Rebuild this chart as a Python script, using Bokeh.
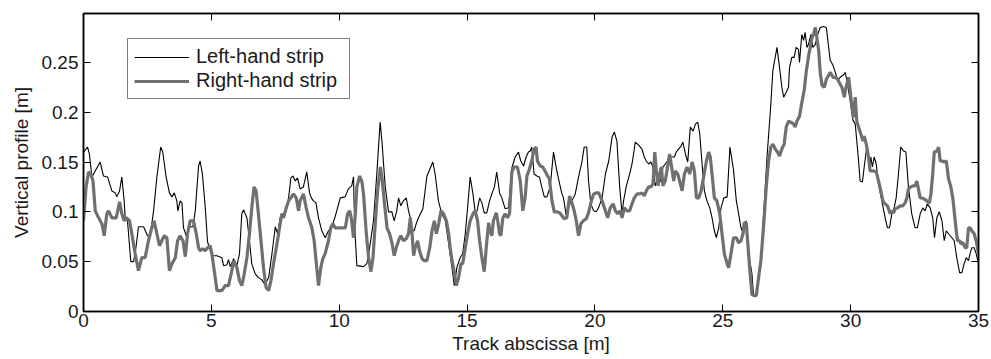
from bokeh.plotting import figure
from bokeh.models import Range1d, LinearAxis, FixedTicker, CustomJSTickFormatter, ColumnDataSource
from bokeh.embed import file_html
from bokeh.resources import INLINE

# ---- data ----
x_ticks = [0, 5, 10, 15, 20, 25, 30, 35]
y_ticks = [0, 0.05, 0.1, 0.15, 0.2, 0.25]
series_names = ["Left-hand strip", "Right-hand strip"]

left_x = [0, 0.16, 0.23, 0.33, 0.65, 0.78, 0.94, 1.11, 1.24, 1.30, 1.41, 1.50, 1.59, 1.63, 1.72, 1.85, 1.96,
          2.05, 2.15, 2.35, 2.50, 2.61, 2.74, 2.87, 3.02, 3.10, 3.23, 3.36, 3.46, 3.55, 3.65, 3.69, 3.78, 3.85,
          3.91, 4.02, 4.17, 4.28, 4.37, 4.50, 4.56, 4.65, 4.76, 4.85, 5.02, 5.22, 5.41, 5.48, 5.61, 5.67, 5.74,
          5.87, 6.00, 6.10, 6.19, 6.26, 6.39, 6.49, 6.58, 6.71, 6.84, 6.97, 7.10, 7.24, 7.37, 7.50, 7.59, 7.69,
          7.76, 7.89, 8.02, 8.11, 8.19, 8.28, 8.37, 8.47, 8.60, 8.73, 8.84, 8.91, 8.99, 9.09, 9.19, 9.32, 9.45,
          9.58, 9.71, 9.84, 10.04, 10.23, 10.36, 10.49, 10.56, 10.58, 10.62, 10.69, 10.95, 11.08, 11.19, 11.34,
          11.47, 11.60, 11.67, 11.80, 11.93, 12.06, 12.15, 12.25, 12.32, 12.41, 12.51, 12.62, 12.71, 12.78,
          12.84, 12.93, 13.01, 13.10, 13.27, 13.43, 13.66, 13.75, 13.88, 14.01, 14.15, 14.28, 14.41, 14.50,
          14.60, 14.73, 14.83, 14.93, 15.02, 15.12, 15.23, 15.32, 15.39, 15.49, 15.58, 15.67, 15.77, 15.88,
          15.97, 16.07, 16.16, 16.27, 16.36, 16.43, 16.49, 16.62, 16.75, 16.88, 17.01, 17.10, 17.21, 17.31,
          17.40, 17.47, 17.53, 17.62, 17.73, 17.83, 17.92, 18.02, 18.12, 18.25, 18.38, 18.51, 18.62, 18.71,
          18.77, 18.88, 18.97, 19.10, 19.23, 19.36, 19.49, 19.58, 19.68, 19.75, 19.84, 19.95, 20.05, 20.14,
          20.28, 20.41, 20.54, 20.67, 20.76, 20.86, 20.97, 21.06, 21.12, 21.23, 21.36, 21.45, 21.58, 21.71,
          21.84, 21.93, 22.01, 22.10, 22.19, 22.27, 22.36, 22.43, 22.49, 22.58, 22.66, 22.75, 22.84, 22.92,
          23.01, 23.11, 23.18, 23.27, 23.37, 23.44, 23.54, 23.63, 23.73, 23.84, 23.93, 24.02, 24.10, 24.19,
          24.28, 24.38, 24.49, 24.58, 24.67, 24.75, 24.84, 24.93, 25.04, 25.17, 25.28, 25.42, 25.53, 25.62,
          25.71, 25.81, 25.92, 26.01, 26.14, 26.20, 26.31, 26.40, 26.49, 26.59, 26.73, 26.86, 26.96, 27.05,
          27.12, 27.22, 27.31, 27.38, 27.48, 27.57, 27.61, 27.70, 27.79, 27.87, 27.96, 28.00, 28.09, 28.16,
          28.22, 28.29, 28.35, 28.45, 28.52, 28.62, 28.71, 28.81, 28.94, 29.05, 29.14, 29.20, 29.31, 29.40,
          29.49, 29.59, 29.70, 29.79, 29.85, 29.98, 30.09, 30.18, 30.24, 30.31, 30.37, 30.46, 30.53, 30.63,
          30.74, 30.79, 30.85, 30.92, 31.00, 31.09, 31.22, 31.35, 31.44, 31.52, 31.61, 31.70, 31.78, 31.87,
          31.96, 32.07, 32.16, 32.26, 32.39, 32.52, 32.61, 32.72, 32.82, 32.91, 33.00, 33.11, 33.21, 33.28,
          33.37, 33.47, 33.57, 33.66, 33.74, 33.83, 33.96, 34.05, 34.15, 34.26, 34.35, 34.44, 34.52, 34.61,
          34.67, 34.74, 34.83, 34.91, 35.00]
left_y = [0.160, 0.165, 0.158, 0.135, 0.150, 0.136, 0.135, 0.121, 0.119, 0.115, 0.121, 0.135, 0.111, 0.094,
          0.091, 0.050, 0.050, 0.064, 0.085, 0.085, 0.076, 0.076, 0.101, 0.135, 0.165, 0.160, 0.135, 0.119,
          0.115, 0.119, 0.111, 0.101, 0.111, 0.109, 0.084, 0.076, 0.085, 0.085, 0.101, 0.146, 0.151, 0.138,
          0.105, 0.070, 0.056, 0.056, 0.054, 0.046, 0.047, 0.052, 0.045, 0.053, 0.046, 0.058, 0.098, 0.102,
          0.094, 0.071, 0.048, 0.038, 0.034, 0.032, 0.027, 0.034, 0.058, 0.085, 0.078, 0.094, 0.098, 0.098,
          0.114, 0.134, 0.136, 0.131, 0.134, 0.123, 0.125, 0.140, 0.119, 0.114, 0.111, 0.109, 0.094, 0.081,
          0.074, 0.081, 0.085, 0.095, 0.114, 0.115, 0.123, 0.126, 0.135, 0.111, 0.078, 0.046, 0.045, 0.048,
          0.064, 0.091, 0.138, 0.190, 0.171, 0.125, 0.100, 0.100, 0.091, 0.101, 0.114, 0.106, 0.111, 0.114,
          0.101, 0.094, 0.081, 0.081, 0.088, 0.094, 0.103, 0.136, 0.150, 0.138, 0.111, 0.098, 0.091, 0.068,
          0.044, 0.026, 0.044, 0.054, 0.058, 0.078, 0.104, 0.135, 0.118, 0.099, 0.101, 0.114, 0.109, 0.099,
          0.099, 0.111, 0.118, 0.125, 0.140, 0.119, 0.114, 0.108, 0.103, 0.104, 0.144, 0.155, 0.160, 0.151,
          0.146, 0.155, 0.160, 0.161, 0.165, 0.138, 0.136, 0.135, 0.125, 0.115, 0.115, 0.125, 0.160, 0.141,
          0.128, 0.118, 0.114, 0.096, 0.106, 0.111, 0.118, 0.135, 0.150, 0.165, 0.165, 0.131, 0.108, 0.101,
          0.100, 0.104, 0.114, 0.138, 0.151, 0.175, 0.180, 0.171, 0.124, 0.098, 0.111, 0.126, 0.138, 0.148,
          0.170, 0.167, 0.163, 0.155, 0.151, 0.148, 0.150, 0.145, 0.126, 0.131, 0.138, 0.130, 0.145, 0.148,
          0.151, 0.155, 0.155, 0.155, 0.160, 0.163, 0.166, 0.170, 0.158, 0.150, 0.185, 0.181, 0.188, 0.190,
          0.178, 0.148, 0.121, 0.111, 0.104, 0.094, 0.081, 0.074, 0.084, 0.104, 0.114, 0.115, 0.165, 0.142,
          0.111, 0.098, 0.084, 0.078, 0.091, 0.058, 0.038, 0.017, 0.016, 0.037, 0.051, 0.094, 0.155, 0.201,
          0.242, 0.255, 0.265, 0.245, 0.225, 0.215, 0.220, 0.225, 0.245, 0.255, 0.255, 0.265, 0.263, 0.250,
          0.278, 0.272, 0.280, 0.265, 0.268, 0.278, 0.265, 0.268, 0.278, 0.285, 0.286, 0.285, 0.265, 0.252,
          0.247, 0.240, 0.232, 0.235, 0.237, 0.240, 0.232, 0.212, 0.192, 0.188, 0.171, 0.151, 0.131, 0.130,
          0.145, 0.165, 0.145, 0.155, 0.145, 0.155, 0.148, 0.128, 0.111, 0.094, 0.084, 0.084, 0.098, 0.104,
          0.114, 0.138, 0.165, 0.161, 0.160, 0.125, 0.098, 0.084, 0.084, 0.098, 0.104, 0.101, 0.108, 0.104,
          0.094, 0.074, 0.094, 0.100, 0.091, 0.071, 0.081, 0.078, 0.074, 0.071, 0.054, 0.039, 0.039, 0.048,
          0.054, 0.051, 0.058, 0.064, 0.064, 0.058, 0.048]

right_x = [0, 0.10, 0.20, 0.29, 0.37, 0.46, 0.59, 0.72, 0.81, 0.91, 0.98, 1.11, 1.28, 1.41, 1.50, 1.59, 1.67,
           1.80, 1.89, 2.02, 2.15, 2.28, 2.41, 2.54, 2.67, 2.76, 2.87, 2.97, 3.06, 3.16, 3.26, 3.36, 3.46, 3.59,
           3.68, 3.78, 3.89, 3.98, 4.07, 4.17, 4.30, 4.41, 4.50, 4.56, 4.67, 4.76, 4.85, 4.95, 5.02, 5.15, 5.22,
           5.41, 5.54, 5.67, 5.80, 5.87, 6.00, 6.10, 6.19, 6.28, 6.39, 6.49, 6.58, 6.67, 6.75, 6.84, 6.94, 7.04,
           7.14, 7.24, 7.33, 7.43, 7.54, 7.63, 7.69, 7.76, 7.82, 7.93, 8.02, 8.11, 8.21, 8.32, 8.41, 8.47, 8.60,
           8.71, 8.80, 8.93, 9.02, 9.12, 9.19, 9.28, 9.36, 9.45, 9.58, 9.67, 9.75, 9.84, 9.98, 10.11, 10.24,
           10.33, 10.41, 10.47, 10.56, 10.63, 10.69, 10.80, 10.89, 10.95, 11.06, 11.15, 11.24, 11.32, 11.41,
           11.50, 11.61, 11.67, 11.76, 11.87, 11.97, 12.06, 12.15, 12.23, 12.32, 12.41, 12.52, 12.62, 12.71,
           12.78, 12.84, 12.91, 12.97, 13.07, 13.14, 13.24, 13.33, 13.43, 13.54, 13.63, 13.72, 13.80, 13.89,
           13.98, 14.08, 14.19, 14.28, 14.34, 14.41, 14.47, 14.58, 14.67, 14.76, 14.83, 14.93, 15.02, 15.12,
           15.23, 15.32, 15.41, 15.49, 15.58, 15.67, 15.75, 15.84, 15.90, 15.97, 16.03, 16.14, 16.20, 16.27,
           16.32, 16.40, 16.49, 16.58, 16.66, 16.75, 16.84, 16.97, 17.08, 17.18, 17.27, 17.34, 17.44, 17.53,
           17.62, 17.70, 17.75, 17.86, 17.96, 18.05, 18.15, 18.22, 18.32, 18.41, 18.51, 18.62, 18.71, 18.80,
           18.90, 19.01, 19.10, 19.19, 19.27, 19.36, 19.45, 19.55, 19.66, 19.75, 19.84, 19.95, 20.05, 20.15,
           20.28, 20.41, 20.50, 20.60, 20.71, 20.80, 20.89, 20.99, 21.06, 21.15, 21.25, 21.36, 21.45, 21.54,
           21.65, 21.75, 21.84, 21.93, 22.01, 22.10, 22.19, 22.27, 22.34, 22.40, 22.47, 22.53, 22.60, 22.66,
           22.75, 22.84, 22.92, 23.00, 23.08, 23.14, 23.24, 23.31, 23.41, 23.50, 23.60, 23.71, 23.80, 23.89,
           23.97, 24.06, 24.15, 24.25, 24.36, 24.45, 24.51, 24.58, 24.67, 24.77, 24.88, 24.97, 25.06, 25.17,
           25.23, 25.32, 25.42, 25.53, 25.62, 25.71, 25.79, 25.84, 25.92, 25.97, 26.05, 26.14, 26.23, 26.31,
           26.40, 26.49, 26.59, 26.70, 26.79, 26.88, 26.96, 27.05, 27.14, 27.22, 27.31, 27.40, 27.48, 27.57,
           27.66, 27.77, 27.83, 27.90, 28.00, 28.06, 28.13, 28.19, 28.26, 28.36, 28.42, 28.49, 28.55, 28.62,
           28.68, 28.75, 28.81, 28.88, 28.97, 29.05, 29.14, 29.20, 29.31, 29.40, 29.49, 29.59, 29.66, 29.75,
           29.82, 29.92, 29.98, 30.05, 30.11, 30.18, 30.24, 30.31, 30.40, 30.48, 30.53, 30.61, 30.70, 30.76,
           30.83, 30.89, 31.00, 31.09, 31.18, 31.26, 31.35, 31.44, 31.55, 31.61, 31.68, 31.74, 31.83, 31.94,
           32.04, 32.13, 32.20, 32.26, 32.35, 32.43, 32.52, 32.59, 32.65, 32.72, 32.78, 32.87, 32.98, 33.08,
           33.14, 33.21, 33.27, 33.37, 33.44, 33.50, 33.57, 33.66, 33.74, 33.83, 33.92, 34.00, 34.06, 34.13,
           34.18, 34.26, 34.31, 34.39, 34.48, 34.54, 34.61, 34.67, 34.74, 34.83, 34.91, 35.00]
right_y = [0.091, 0.125, 0.140, 0.138, 0.131, 0.101, 0.094, 0.088, 0.076, 0.098, 0.101, 0.094, 0.094, 0.110,
           0.098, 0.091, 0.094, 0.091, 0.078, 0.058, 0.041, 0.054, 0.054, 0.071, 0.084, 0.091, 0.078, 0.066,
           0.071, 0.076, 0.074, 0.041, 0.048, 0.054, 0.071, 0.076, 0.071, 0.055, 0.078, 0.091, 0.091, 0.078,
           0.064, 0.061, 0.063, 0.061, 0.064, 0.066, 0.058, 0.034, 0.021, 0.021, 0.026, 0.026, 0.041, 0.051,
           0.044, 0.031, 0.026, 0.037, 0.054, 0.078, 0.104, 0.125, 0.121, 0.098, 0.071, 0.044, 0.024, 0.021,
           0.031, 0.048, 0.064, 0.078, 0.088, 0.098, 0.094, 0.104, 0.111, 0.114, 0.118, 0.114, 0.101, 0.111,
           0.118, 0.104, 0.094, 0.084, 0.071, 0.044, 0.026, 0.044, 0.053, 0.058, 0.071, 0.084, 0.088, 0.084,
           0.084, 0.084, 0.084, 0.098, 0.101, 0.094, 0.074, 0.098, 0.125, 0.136, 0.130, 0.118, 0.078, 0.054,
           0.040, 0.054, 0.088, 0.121, 0.145, 0.135, 0.111, 0.084, 0.078, 0.069, 0.056, 0.064, 0.071, 0.076,
           0.071, 0.073, 0.078, 0.094, 0.081, 0.056, 0.064, 0.071, 0.061, 0.053, 0.051, 0.051, 0.064, 0.081,
           0.091, 0.078, 0.088, 0.101, 0.098, 0.091, 0.078, 0.064, 0.051, 0.044, 0.026, 0.034, 0.048, 0.048,
           0.064, 0.078, 0.091, 0.098, 0.101, 0.091, 0.071, 0.054, 0.040, 0.064, 0.089, 0.081, 0.076, 0.091,
           0.099, 0.091, 0.078, 0.076, 0.094, 0.098, 0.094, 0.098, 0.140, 0.145, 0.145, 0.131, 0.101, 0.114,
           0.136, 0.143, 0.151, 0.163, 0.165, 0.151, 0.146, 0.145, 0.141, 0.136, 0.133, 0.111, 0.100, 0.100,
           0.099, 0.096, 0.093, 0.094, 0.116, 0.109, 0.101, 0.091, 0.076, 0.088, 0.091, 0.093, 0.099, 0.109,
           0.118, 0.119, 0.119, 0.111, 0.101, 0.094, 0.104, 0.108, 0.101, 0.098, 0.101, 0.094, 0.104, 0.101,
           0.101, 0.108, 0.114, 0.118, 0.118, 0.119, 0.116, 0.121, 0.125, 0.125, 0.128, 0.160, 0.141, 0.126,
           0.138, 0.145, 0.126, 0.131, 0.145, 0.158, 0.145, 0.131, 0.141, 0.138, 0.131, 0.121, 0.138, 0.145,
           0.138, 0.150, 0.141, 0.114, 0.114, 0.121, 0.135, 0.151, 0.160, 0.155, 0.138, 0.114, 0.111, 0.098,
           0.078, 0.058, 0.048, 0.044, 0.058, 0.074, 0.074, 0.069, 0.071, 0.078, 0.089, 0.089, 0.071, 0.044,
           0.017, 0.016, 0.016, 0.034, 0.051, 0.084, 0.125, 0.151, 0.165, 0.168, 0.163, 0.160, 0.156, 0.163,
           0.168, 0.185, 0.191, 0.190, 0.188, 0.185, 0.191, 0.196, 0.205, 0.215, 0.223, 0.240, 0.257, 0.265,
           0.275, 0.278, 0.285, 0.275, 0.262, 0.240, 0.227, 0.225, 0.233, 0.237, 0.240, 0.235, 0.235, 0.233,
           0.228, 0.225, 0.215, 0.225, 0.235, 0.222, 0.205, 0.195, 0.215, 0.191, 0.185, 0.178, 0.171, 0.176,
           0.168, 0.155, 0.141, 0.141, 0.141, 0.140, 0.131, 0.121, 0.111, 0.108, 0.106, 0.098, 0.101, 0.099,
           0.103, 0.104, 0.106, 0.106, 0.109, 0.114, 0.123, 0.125, 0.126, 0.126, 0.131, 0.123, 0.114, 0.114,
           0.113, 0.111, 0.109, 0.118, 0.138, 0.160, 0.161, 0.165, 0.151, 0.151, 0.150, 0.151, 0.133, 0.125,
           0.113, 0.098, 0.081, 0.071, 0.071, 0.068, 0.069, 0.064, 0.064, 0.084, 0.084, 0.081, 0.078, 0.071,
           0.058]

FONT = "Liberation Sans"
TXT = "#1a1a1a"

p = figure(width=991, height=359, x_range=Range1d(0, 35), y_range=Range1d(0, 0.299),
           output_backend="svg", toolbar_location=None,
           min_border_left=83, min_border_right=13, min_border_top=13, min_border_bottom=48)
p.background_fill_color = "white"
p.border_fill_color = "white"
p.outline_line_color = "black"
p.outline_line_width = 1.5
p.xgrid.visible = False
p.ygrid.visible = False

src_l = ColumnDataSource(dict(x=left_x, y=left_y))
src_r = ColumnDataSource(dict(x=right_x, y=right_y))
p.line("x", "y", source=src_l, line_color="black", line_width=1.1, legend_label=series_names[0])
p.line("x", "y", source=src_r, line_color="#707070", line_width=3.2, legend_label=series_names[1])

fmt = CustomJSTickFormatter(code="return (Math.round(tick*100)/100).toString();")

xa = p.xaxis[0]
xa.ticker = FixedTicker(ticks=x_ticks)
xa.axis_label = "Track abscissa [m]"
ya = p.yaxis[0]
ya.ticker = FixedTicker(ticks=y_ticks)
ya.formatter = fmt
ya.axis_label = "Vertical profile [m]"

for ax in (xa, ya):
    ax.major_tick_in = 7
    ax.major_tick_out = 0
    ax.major_tick_line_width = 1
    ax.minor_tick_line_color = None
    ax.axis_line_color = "black"
    ax.axis_line_width = 1.5
    ax.major_tick_line_color = "black"
    ax.major_label_text_font = FONT
    ax.major_label_text_font_size = "19px"
    ax.major_label_text_color = TXT
    ax.axis_label_text_font = FONT
    ax.axis_label_text_font_size = "19px"
    ax.axis_label_text_font_style = "normal"
    ax.axis_label_text_color = TXT
xa.major_label_standoff = 2
xa.axis_label_standoff = 3
ya.major_label_standoff = 5
ya.axis_label_standoff = 7

for side, tk in (("above", x_ticks), ("right", y_ticks)):
    ax = LinearAxis(ticker=FixedTicker(ticks=tk), major_tick_in=7, major_tick_out=0,
                    major_tick_line_width=1, major_label_text_color=None,
                    major_label_text_font_size="1px", major_label_standoff=0,
                    minor_tick_line_color=None, axis_line_color="black", axis_line_width=1.5)
    p.add_layout(ax, side)

lg = p.legend[0]
lg.location = (44, 212)
lg.border_line_color = "black"
lg.border_line_width = 1.5
lg.background_fill_color = "white"
lg.background_fill_alpha = 1
lg.label_text_font = FONT
lg.label_text_font_size = "20px"
lg.label_text_color = TXT
lg.glyph_width = 55
lg.glyph_height = 22
lg.label_height = 22
lg.label_standoff = 7
lg.label_width = 147
lg.spacing = 1
lg.padding = 6
lg.margin = 0

open("out.html", "w").write(file_html(p, INLINE))
